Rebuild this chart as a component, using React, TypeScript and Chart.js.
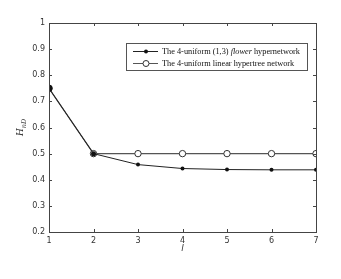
import React, { useEffect, useRef } from "react";
import { Chart, registerables } from "chart.js";

Chart.register(...registerables);

const steps = [1, 2, 3, 4, 5, 6, 7];
const flowerValues = [0.75, 0.5, 0.458, 0.443, 0.439, 0.438, 0.438];
const linearValues = [0.75, 0.5, 0.5, 0.5, 0.5, 0.5, 0.5];
const yTicks = [0.2, 0.3, 0.4, 0.5, 0.6, 0.7, 0.8, 0.9, 1];
const seriesNames = ["The 4-uniform (1,3) ", "flower", " hypernetwork", "The 4-uniform linear hypertree network"];

const AXIS = "#444";

const framePlugin = {
  id: "frame",
  afterDraw(chart: any) {
    const ctx = chart.ctx;
    const a = chart.chartArea;
    const xs = chart.scales.x;
    const ys = chart.scales.y;
    ctx.save();
    ctx.strokeStyle = AXIS;
    ctx.lineWidth = 1;
    ctx.strokeRect(Math.round(a.left) + 0.5, Math.round(a.top) + 0.5, Math.round(a.right - a.left), Math.round(a.bottom - a.top));
    const tl = 3;
    ctx.beginPath();
    steps.forEach((v) => {
      const px = Math.round(xs.getPixelForValue(v)) + 0.5;
      ctx.moveTo(px, a.bottom);
      ctx.lineTo(px, a.bottom - tl);
      ctx.moveTo(px, a.top);
      ctx.lineTo(px, a.top + tl);
    });
    yTicks.forEach((v) => {
      const py = Math.round(ys.getPixelForValue(v)) + 0.5;
      ctx.moveTo(a.left, py);
      ctx.lineTo(a.left + tl, py);
      ctx.moveTo(a.right, py);
      ctx.lineTo(a.right - tl, py);
    });
    ctx.stroke();

    // axis titles
    ctx.fillStyle = "#333";
    ctx.font = "italic 9px 'DejaVu Sans', sans-serif";
    ctx.textAlign = "center";
    ctx.textBaseline = "middle";
    ctx.fillText("l", (a.left + a.right) / 2, 249);
    ctx.save();
    ctx.translate(21, (a.top + a.bottom) / 2);
    ctx.rotate(-Math.PI / 2);
    ctx.font = "italic 9px 'DejaVu Serif', serif";
    ctx.textAlign = "left";
    const w1 = ctx.measureText("H").width;
    ctx.font = "italic 6.5px 'DejaVu Serif', serif";
    const w2 = ctx.measureText("nD").width;
    const sx = -(w1 + w2) / 2;
    ctx.font = "italic 9px 'DejaVu Serif', serif";
    ctx.fillText("H", sx, 0);
    ctx.font = "italic 6.5px 'DejaVu Serif', serif";
    ctx.fillText("nD", sx + w1, 3);
    ctx.restore();

    // legend
    const bx = 126, by = 43, bw = 181, bh = 27;
    ctx.fillStyle = "#fff";
    ctx.fillRect(bx, by, bw, bh);
    ctx.strokeStyle = "#555";
    ctx.strokeRect(bx + 0.5, by + 0.5, bw, bh);
    const rows = [51, 63];
    ctx.lineWidth = 1;
    rows.forEach((ry, i) => {
      ctx.strokeStyle = i === 0 ? "#222" : "#555";
      ctx.beginPath();
      ctx.moveTo(133, ry + 0.5);
      ctx.lineTo(158, ry + 0.5);
      ctx.stroke();
      ctx.beginPath();
      if (i === 0) {
        ctx.fillStyle = "#111";
        ctx.arc(146, ry + 0.5, 2, 0, Math.PI * 2);
        ctx.fill();
      } else {
        ctx.fillStyle = "#fff";
        ctx.strokeStyle = "#333";
        ctx.arc(146, ry + 0.5, 3, 0, Math.PI * 2);
        ctx.fill();
        ctx.stroke();
      }
    });
    ctx.fillStyle = "#111";
    ctx.textAlign = "left";
    ctx.textBaseline = "middle";
    const f = "8.3px 'Liberation Serif', serif";
    const fi = "italic 8.3px 'Liberation Serif', serif";
    let tx = 162;
    ctx.font = f;
    ctx.fillText(seriesNames[0], tx, rows[0] + 0.5);
    tx += ctx.measureText(seriesNames[0]).width;
    ctx.font = fi;
    ctx.fillText(seriesNames[1], tx, rows[0] + 0.5);
    tx += ctx.measureText(seriesNames[1]).width;
    ctx.font = f;
    ctx.fillText(seriesNames[2], tx, rows[0] + 0.5);
    ctx.fillText(seriesNames[3], 162, rows[1] + 0.5);
    ctx.restore();
  },
};

export default function App() {
  const ref = useRef<HTMLCanvasElement>(null);
  useEffect(() => {
    if (!ref.current) return;
    const chart = new Chart(ref.current, {
      type: "line",
      data: {
        datasets: [
          {
            label: "flower",
            data: steps.map((s, i) => ({ x: s, y: flowerValues[i] })),
            borderColor: "#222",
            borderWidth: 1,
            pointRadius: [3.5, 2.5, 2, 2, 2, 2, 2],
            pointBackgroundColor: "#111",
            pointBorderColor: "#111",
            pointBorderWidth: 0,
          },
          {
            label: "linear",
            data: steps.map((s, i) => ({ x: s, y: linearValues[i] })),
            borderColor: "#555",
            borderWidth: 1.3,
            pointRadius: 3.2,
            pointBackgroundColor: "#fff",
            pointBorderColor: "#333",
            pointBorderWidth: 1,
          },
        ],
      },
      options: {
        animation: false,
        responsive: false,
        maintainAspectRatio: false,
        layout: { padding: { left: 0, right: 25, top: 23, bottom: 0 } },
        plugins: { legend: { display: false }, tooltip: { enabled: false } },
        scales: {
          x: {
            type: "linear",
            min: 1,
            max: 7,
            afterFit: (s: any) => { s.height = 47; },
            afterBuildTicks: (s: any) => { s.ticks = steps.map((v) => ({ value: v })); },
            ticks: { font: { size: 8, family: "'DejaVu Sans', sans-serif" }, color: "#333", padding: 4, maxRotation: 0 },
            grid: { display: false, drawTicks: false },
            border: { display: false },
          },
          y: {
            min: 0.2,
            max: 1,
            afterFit: (s: any) => { s.width = 49; },
            afterBuildTicks: (s: any) => { s.ticks = yTicks.map((v) => ({ value: v })); },
            ticks: {
              font: { size: 8, family: "'DejaVu Sans', sans-serif" },
              color: "#333",
              padding: 4,
              callback: (v: any) => (v === 1 ? "1" : Number(v).toFixed(1)),
            },
            grid: { display: false, drawTicks: false },
            border: { display: false },
          },
        },
      },
      plugins: [framePlugin],
    } as any);
    return () => chart.destroy();
  }, []);
  return (
    <div style={{ position: "fixed", left: 0, top: 0, width: 341, height: 279, background: "#fff" }}>
      <canvas ref={ref} width={341} height={279} style={{ width: 341, height: 279 }} />
    </div>
  );
}
